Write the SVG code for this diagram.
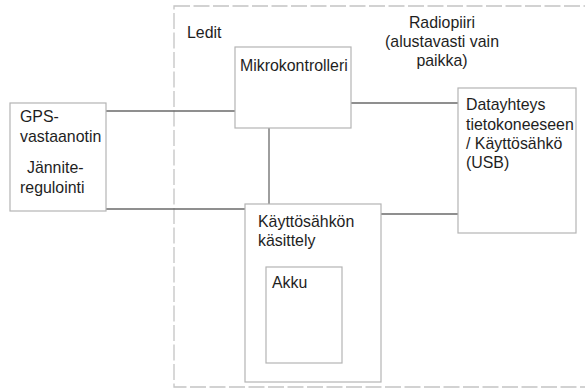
<svg xmlns="http://www.w3.org/2000/svg" width="585" height="389" viewBox="0 0 585 389">
<style>
.box{fill:#fff;stroke:#b4b4b4;stroke-width:1.2}
.frame{fill:none;stroke:#c4c4c4;stroke-width:1.3;stroke-dasharray:16 3.5}
.conn{stroke:#6a6a6a;stroke-width:1.3;fill:none}
text{font-family:"Liberation Sans",Arial,sans-serif;font-size:15.9px;fill:#1e1e1e}
</style>
<rect width="585" height="389" fill="#fff"/>
<g id="frame">
<rect class="frame" x="174" y="6" width="430" height="381"/>
<text x="187" y="38">Ledit</text>
</g>
<g id="radiopiiri">
<text x="442" y="28" text-anchor="middle">Radiopiiri</text>
<text x="442" y="47" text-anchor="middle">(alustavasti vain</text>
<text x="442" y="66" text-anchor="middle">paikka)</text>
</g>
<g id="connectors">
<line class="conn" x1="106" y1="111" x2="235" y2="111"/>
<line class="conn" x1="351" y1="103" x2="458" y2="103"/>
<line class="conn" x1="269" y1="128" x2="269" y2="204"/>
<line class="conn" x1="106" y1="209" x2="245" y2="209"/>
<line class="conn" x1="381" y1="214" x2="458" y2="214"/>
</g>
<g id="gps">
<rect class="box" x="10" y="103" width="96" height="108"/>
<text x="20" y="122">GPS-</text>
<text x="20" y="142">vastaanotin</text>
<text x="27" y="173">Jännite-</text>
<text x="20" y="193">regulointi</text>
</g>
<g id="mikrokontrolleri">
<rect class="box" x="235" y="47" width="116" height="81"/>
<text x="240" y="71">Mikrokontrolleri</text>
</g>
<g id="datayhteys">
<rect class="box" x="458" y="88" width="118" height="145"/>
<text x="466" y="110">Datayhteys</text>
<text x="466" y="130">tietokoneeseen</text>
<text x="466" y="149">/ Käyttösähkö</text>
<text x="466" y="168">(USB)</text>
</g>
<g id="kayttosahko">
<rect class="box" x="245" y="204" width="136" height="178"/>
<text x="258" y="227">Käyttösähkön</text>
<text x="258" y="246">käsittely</text>
</g>
<g id="akku">
<rect class="box" x="266" y="267" width="76" height="96"/>
<text x="272" y="288">Akku</text>
</g>
</svg>
